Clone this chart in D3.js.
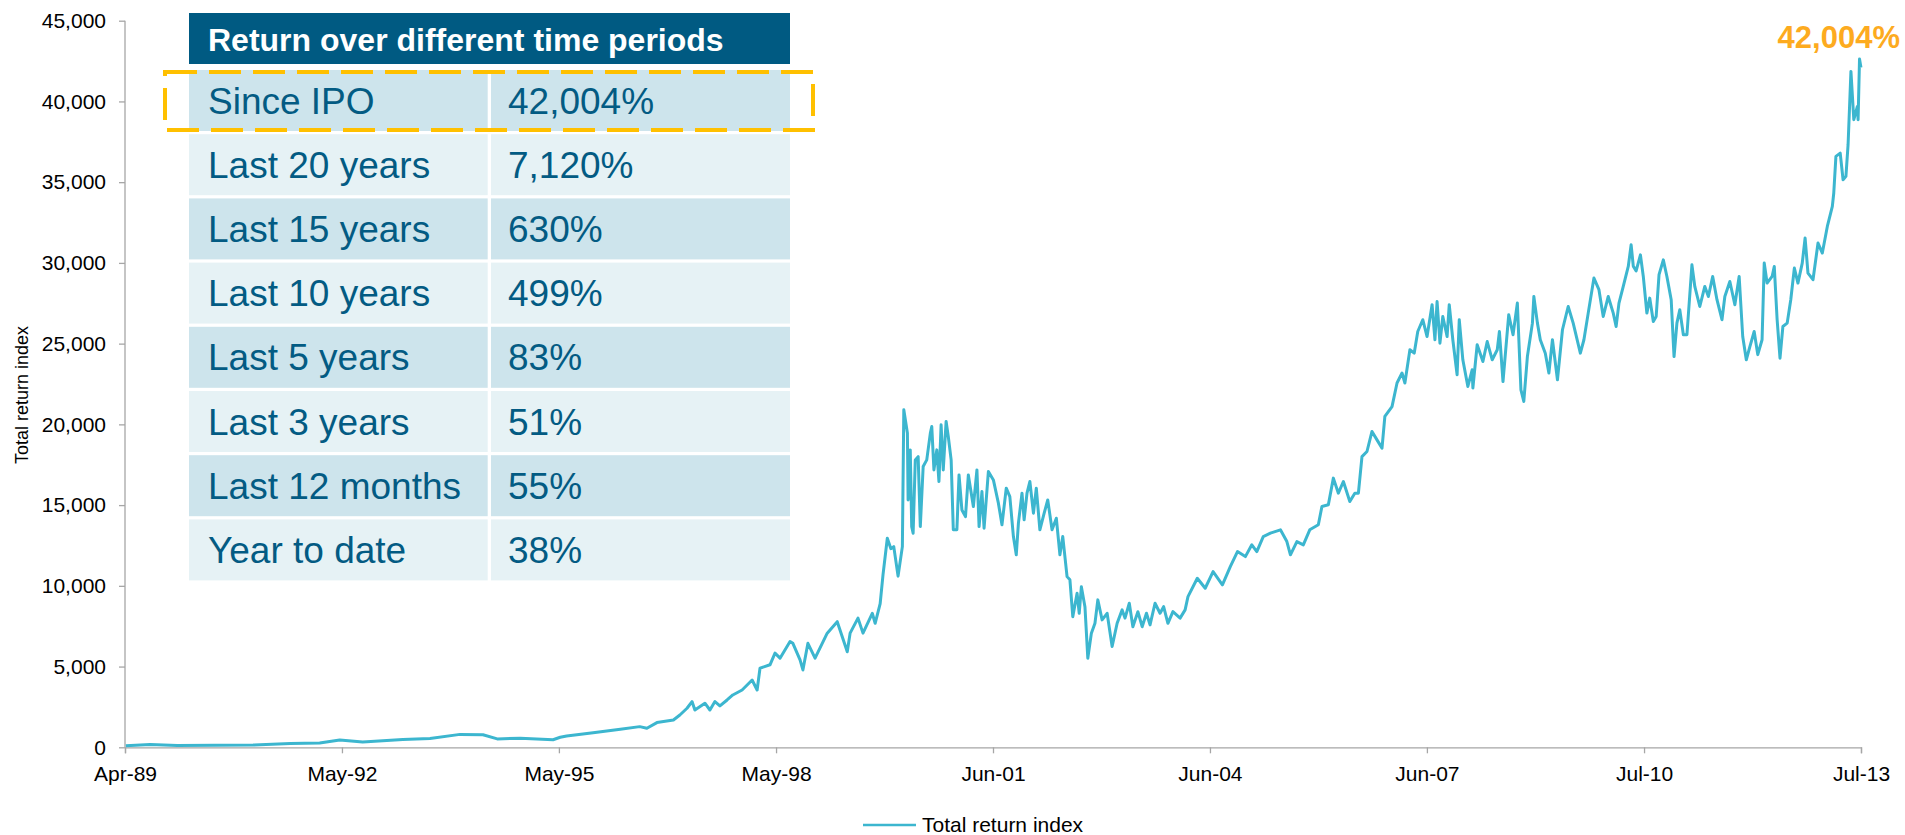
<!DOCTYPE html>
<html>
<head>
<meta charset="utf-8">
<script src="https://cdn.jsdelivr.net/npm/d3@7"></script>
<style>
  body { margin: 0; background: #fff; }
  #chart { width: 1905px; height: 835px; }
  text { font-family: "Liberation Sans", Arial, sans-serif; }
</style>
</head>
<body>
<div id="chart"></div>
<script>
// decimal years
let obsYears = [
    1989.31, 1989.65, 1990.03, 1991.09, 1991.61, 1992.02, 1992.30, 1992.62, 1993.18, 1993.56,
    1993.98, 1994.30, 1994.50, 1994.82, 1995.28, 1995.38, 1995.47, 1995.84, 1996.22, 1996.49,
    1996.59, 1996.73, 1996.96, 1997.05, 1997.15, 1997.22, 1997.26, 1997.40, 1997.47, 1997.54,
    1997.61, 1997.71, 1997.79, 1997.92, 1998.06, 1998.13, 1998.17, 1998.31, 1998.38, 1998.45,
    1998.59, 1998.63, 1998.73, 1998.77, 1998.84, 1998.94, 1999.11, 1999.25, 1999.39, 1999.43,
    1999.54, 1999.61, 1999.74, 1999.78, 1999.85, 1999.89, 1999.95, 2000.00, 2000.04, 2000.10,
    2000.16, 2000.18, 2000.23, 2000.24, 2000.27, 2000.29, 2000.31, 2000.34, 2000.38, 2000.41,
    2000.45, 2000.50, 2000.55, 2000.57, 2000.60, 2000.64, 2000.67, 2000.70, 2000.73, 2000.77,
    2000.80, 2000.84, 2000.87, 2000.92, 2000.95, 2000.99, 2001.04, 2001.08, 2001.15, 2001.20,
    2001.23, 2001.27, 2001.30, 2001.36, 2001.43, 2001.50, 2001.55, 2001.61, 2001.66, 2001.71,
    2001.75, 2001.78, 2001.83, 2001.86, 2001.90, 2001.94, 2001.99, 2002.03, 2002.08, 2002.14,
    2002.19, 2002.25, 2002.31, 2002.36, 2002.40, 2002.46, 2002.50, 2002.54, 2002.60, 2002.63,
    2002.66, 2002.71, 2002.75, 2002.80, 2002.85, 2002.89, 2002.95, 2003.02, 2003.09, 2003.16,
    2003.23, 2003.27, 2003.33, 2003.38, 2003.45, 2003.51, 2003.57, 2003.62,
    2003.69, 2003.76, 2003.81, 2003.87, 2003.94, 2004.04, 2004.11, 2004.15,
    2004.28, 2004.39, 2004.50, 2004.63, 2004.74, 2004.84, 2004.95, 2005.04, 2005.11, 2005.20,
    2005.30, 2005.44, 2005.53, 2005.58, 2005.67, 2005.76, 2005.85, 2005.97, 2006.02, 2006.11,
    2006.18, 2006.25, 2006.32, 2006.41, 2006.48, 2006.53, 2006.58, 2006.65, 2006.72, 2006.79,
    2006.86, 2006.90, 2007.00, 2007.07, 2007.14, 2007.18, 2007.25, 2007.31, 2007.36, 2007.43,
    2007.49, 2007.56, 2007.60, 2007.63, 2007.67, 2007.71, 2007.77, 2007.80, 2007.85, 2007.91,
    2007.94, 2007.99, 2008.06, 2008.12, 2008.13, 2008.19, 2008.27, 2008.33, 2008.40, 2008.47,
    2008.50, 2008.55, 2008.63, 2008.69, 2008.75, 2008.80, 2008.84, 2008.89, 2008.96, 2008.98,
    2009.03, 2009.07, 2009.14, 2009.19, 2009.24, 2009.31, 2009.38, 2009.46, 2009.53, 2009.63,
    2009.68, 2009.74, 2009.82, 2009.89, 2009.95, 2010.02, 2010.09, 2010.13, 2010.17, 2010.23,
    2010.30, 2010.34, 2010.37, 2010.41, 2010.47, 2010.51, 2010.56, 2010.60, 2010.65, 2010.69,
    2010.73, 2010.79, 2010.84, 2010.90, 2010.93, 2010.94, 2010.98, 2011.02, 2011.07, 2011.12,
    2011.19, 2011.23, 2011.30, 2011.37, 2011.42, 2011.48, 2011.54, 2011.61, 2011.65, 2011.72,
    2011.79, 2011.85, 2011.90, 2011.95, 2012.00, 2012.06, 2012.11, 2012.17, 2012.20, 2012.24,
    2012.31, 2012.34, 2012.38, 2012.42, 2012.46, 2012.52, 2012.57, 2012.62, 2012.67, 2012.73,
    2012.77, 2012.81, 2012.88, 2012.95, 2013.01, 2013.08, 2013.15, 2013.17, 2013.20, 2013.26,
    2013.30, 2013.34, 2013.37, 2013.41, 2013.45, 2013.50, 2013.51, 2013.53, 2013.55
];
let obsValues = [
    100, 180, 110, 140, 230, 260, 450, 330, 490, 550,
    800, 780, 520, 560, 470, 620, 700, 900, 1120, 1280,
    1180, 1530, 1690, 2000, 2420, 2830, 2310, 2730, 2310, 2830,
    2560, 2930, 3240, 3550, 4170, 3550, 4900, 5110, 5830, 5520,
    6550, 6440, 5410, 4790, 6440, 5520, 7070, 7780, 5920, 7070,
    8000, 7070, 8300, 7680, 8900, 10700, 12950, 12300, 12430, 10600,
    12430, 20900, 19460, 15320, 18420, 13670, 13260, 17800, 18000, 13670,
    17390, 17800, 19460, 19870, 17180, 18420, 16460, 19970, 17180, 20180,
    19250, 17800, 13470, 13470, 16870, 14700, 14290, 16870, 14910, 17180,
    13670, 15840, 13570, 17080, 16560, 15120, 13780, 16050, 15530, 13050,
    11920, 13880, 15740, 14090, 15740, 16460, 14500, 16050, 13470, 14500,
    15320, 13470, 14190, 11920, 13050, 10570, 10370, 8090, 9540, 8300,
    9950, 8710, 5520, 7070, 7680, 9130, 7890, 8300, 6240, 7680,
    8510, 8000, 8920, 7470, 8400, 7470, 8300, 7580,
    8920, 8300, 8710, 7680, 8400, 8000, 8510, 9330,
    10470, 9850, 10880, 10060, 11190, 12120, 11810, 12540, 12120, 13050,
    13260, 13470, 12740, 11920, 12740, 12540, 13470, 13780, 14910, 15020,
    16670, 15740, 16460, 15220, 15740, 15740, 18000, 18320, 19560, 19040,
    18530, 20490, 21100, 22560, 23180, 22560, 24620, 24410, 25750, 26480,
    25440, 27410, 25240, 27610, 25030, 26680, 25440, 27410, 25240, 23070,
    26480, 24000, 22350, 23380, 22250, 24930, 23890, 25130, 24000, 24620,
    25750, 22650, 26790, 25550, 27510, 22140, 21420, 24200, 26270, 27920,
    26270, 25240, 24410, 23180, 25240, 22760, 25860, 27300, 26270, 24410,
    25240, 26890, 29060, 28340, 26680, 27920, 26890, 26060, 27510, 28540,
    29780, 31120, 29800, 29500, 30500, 29160, 26890, 27820, 26370, 26680,
    29270, 30190, 29160, 27720, 25030, 24200, 26270, 27100, 25550, 25550,
    29880, 28540, 27300, 28540, 27920, 29160, 27720, 26480, 27920, 28850,
    27410, 29160, 25440, 24000, 24820, 25750, 24320, 25240, 29990, 28750,
    29160, 29780, 26480, 24100, 26060, 26270, 27720, 29680, 28750, 29990,
    31540, 29370, 28960, 31230, 30610, 32260, 33500, 34330, 36600, 36800,
    35150, 35360, 37320, 41860, 38870, 39690, 38870, 42630, 42104
];

let tickDates = ["1989-04-20", "1992-05-01", "1995-05-13", "1998-05-25", "2001-06-05",
                 "2004-06-16", "2007-06-28", "2010-07-10", "2013-07-21"];
let tickLabels = ["Apr-89", "May-92", "May-95", "May-98", "Jun-01", "Jun-04", "Jun-07", "Jul-10", "Jul-13"];
let yTicks = [0, 5000, 10000, 15000, 20000, 25000, 30000, 35000, 40000, 45000];

let tableTitle = "Return over different time periods";
let periodLabels = ["Since IPO", "Last 20 years", "Last 15 years", "Last 10 years",
                    "Last 5 years", "Last 3 years", "Last 12 months", "Year to date"];
let periodReturns = ["42,004%", "7,120%", "630%", "499%", "83%", "51%", "55%", "38%"];

let seriesName = "Total return index";
let endLabel = "42,004%";

let LINE_COLOR = "#3cb6cf",
    DARK_BLUE = "#035b83",
    HIGHLIGHT = "#ffc000";

let yearToDate = function(y) {
    let yr = Math.floor(y),
        a = new Date(yr, 0, 1),
        b = new Date(yr + 1, 0, 1);
    return new Date(+a + (y - yr) * (b - a));
};

let drawChart = function() {
    let w = 1905, h = 835;
    let parse = d3.timeParse("%Y-%m-%d");
    let tickDt = tickDates.map(parse);

    let svg = d3.select("#chart").append("svg")
        .attr("width", w)
        .attr("height", h);

    let x = d3.scaleTime()
        .domain([tickDt[0], tickDt[tickDt.length - 1]])
        .range([125, 1861]);
    let y = d3.scaleLinear()
        .domain([0, 45000])
        .range([747.3, 20.7]);

    let data = obsYears.map(function(yr, i) { return {date: yearToDate(yr), value: obsValues[i]}; });

    // axes
    let yAxis = svg.append("g")
        .attr("transform", "translate(125,0)")
        .call(d3.axisLeft(y).tickValues(yTicks).tickSize(6).tickPadding(13)
              .tickFormat(d3.format(",")));
    let xAxis = svg.append("g")
        .attr("transform", "translate(0,747.3)")
        .call(d3.axisBottom(x).tickValues(tickDt).tickSize(6).tickPadding(13)
              .tickFormat(function(d, i) { return tickLabels[i]; }));
    [yAxis, xAxis].forEach(function(ax) {
        ax.select(".domain").attr("stroke", "#a6a6a6").attr("stroke-width", 1.3);
        ax.selectAll(".tick line").attr("stroke", "#a6a6a6").attr("stroke-width", 1.3);
        ax.selectAll(".tick text")
            .attr("fill", "#000")
            .style("font-size", "21px")
            .style("font-family", "'Liberation Sans', Arial, sans-serif");
    });
    yAxis.select(".domain").attr("d", "M0,747.3V20.7");

    svg.append("text")
        .attr("transform", "translate(28,395) rotate(-90)")
        .attr("text-anchor", "middle")
        .attr("font-size", 18)
        .attr("fill", "#000")
        .text("Total return index");

    // series line
    let line = d3.line()
        .x(function(d) { return x(d.date); })
        .y(function(d) { return y(d.value); });
    svg.append("path")
        .datum(data)
        .attr("d", line)
        .attr("fill", "none")
        .attr("stroke", LINE_COLOR)
        .attr("stroke-width", 3)
        .attr("stroke-linejoin", "round");

    svg.append("text")
        .attr("x", 1900)
        .attr("y", 48)
        .attr("text-anchor", "end")
        .attr("font-size", 31)
        .attr("font-weight", "bold")
        .attr("fill", "#fdab1f")
        .text(endLabel);

    // returns table
    let tx = 189, col2 = 491, tRight = 790,
        rowTop = 70, rowPitch = 64.2, rowH = 61;
    let table = svg.append("g").attr("class", "table");
    table.append("rect")
        .attr("x", tx).attr("y", 13)
        .attr("width", tRight - tx).attr("height", 51)
        .attr("fill", "#005a82");
    table.append("text")
        .attr("x", 208).attr("y", 51)
        .attr("font-size", 32)
        .attr("font-weight", "bold")
        .attr("fill", "#fff")
        .text(tableTitle);

    let rows = table.selectAll("g.row")
        .data(periodLabels)
      .enter().append("g")
        .attr("class", "row")
        .attr("transform", function(d, i) { return "translate(0," + (rowTop + i * rowPitch) + ")"; });
    rows.append("rect")
        .attr("x", tx).attr("width", col2 - 3.3 - tx).attr("height", rowH)
        .attr("fill", function(d, i) { return i % 2 ? "#e6f2f5" : "#cde4ec"; });
    rows.append("rect")
        .attr("x", col2).attr("width", tRight - col2).attr("height", rowH)
        .attr("fill", function(d, i) { return i % 2 ? "#e6f2f5" : "#cde4ec"; });
    rows.append("text")
        .attr("x", 208).attr("y", rowH / 2 + 13)
        .attr("font-size", 37)
        .attr("fill", DARK_BLUE)
        .text(function(d) { return d; });
    rows.append("text")
        .attr("x", 508).attr("y", rowH / 2 + 13)
        .attr("font-size", 37)
        .attr("fill", DARK_BLUE)
        .text(function(d, i) { return periodReturns[i]; });

    // highlight round the first row
    svg.append("rect")
        .attr("x", 165).attr("y", 72)
        .attr("width", 648).attr("height", 58)
        .attr("fill", "none")
        .attr("stroke", HIGHLIGHT)
        .attr("stroke-width", 4)
        .attr("stroke-dasharray", "32,12");

    // legend
    let legend = svg.append("g").attr("transform", "translate(863,825)");
    legend.append("line")
        .attr("x1", 0).attr("x2", 53)
        .attr("stroke", LINE_COLOR)
        .attr("stroke-width", 2.6);
    legend.append("text")
        .attr("x", 59).attr("y", 7)
        .attr("font-size", 21)
        .attr("fill", "#000")
        .text(seriesName);
};

drawChart();
</script>
</body>
</html>
